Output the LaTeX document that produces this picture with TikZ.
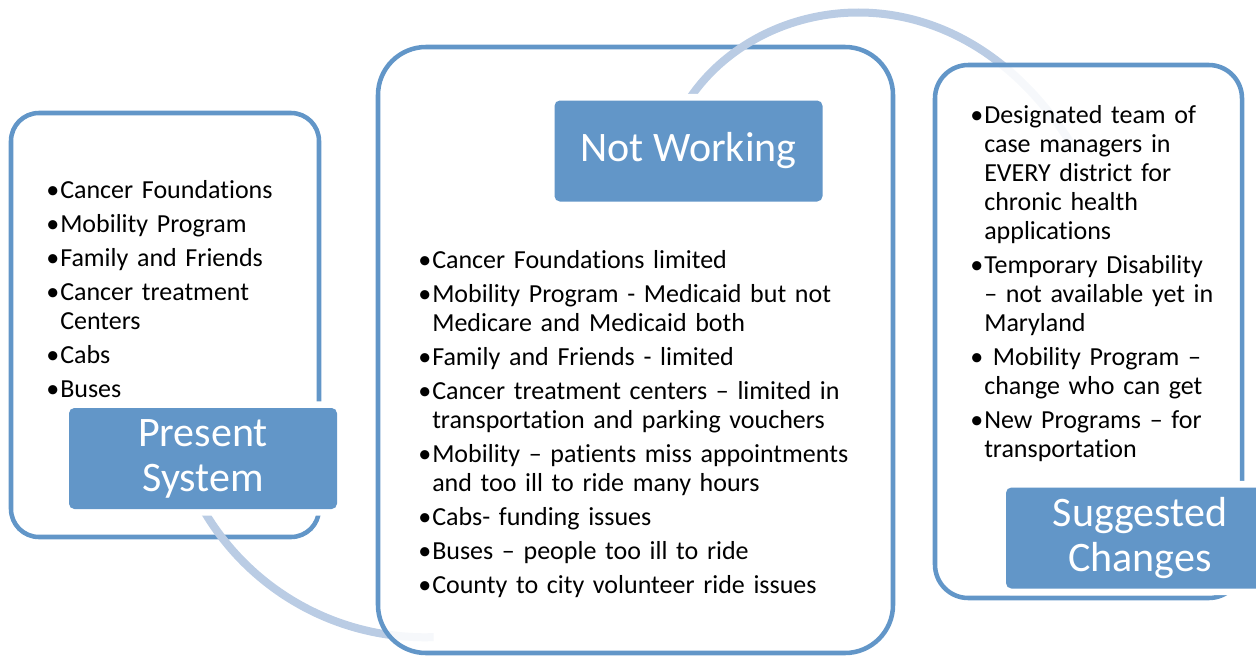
\documentclass[tikz,border=0pt]{standalone}
\usepackage{fontspec}
\setmainfont{Carlito}[Ligatures=CommonOff]

\definecolor{boxblue}{RGB}{98,150,200}
\definecolor{linkblue}{RGB}{186,204,228}

\newcommand\itm{\par\hangindent=10.5pt\hangafter=1\noindent\makebox[10.5pt][l]{•}}

\pgfdeclarelayer{front}
\pgfsetlayers{main,front}

\tikzset{
  panel/.style={draw=boxblue, line width=3.4pt, fill=white, fill opacity=0.88, rounded corners=#1},
  tag/.style={fill=boxblue, rounded corners=4pt, minimum width=201pt, minimum height=75.75pt,
    inner sep=0pt, align=center, text=white, font=\fontsize{31.5}{33.75}\selectfont,
    preaction={draw=white, line width=10pt}},
  list/.style={anchor=north west, inner sep=0pt, align=left, text width=#1,
    font=\fontsize{19.5}{21.75}\selectfont},
  link/.style={draw=linkblue, line width=6pt},
}

\begin{document}
\begin{tikzpicture}[x=0.75pt, y=-0.75pt]
\useasboundingbox (0,0) rectangle (1256,657);

% headings, kept above the rest
\begin{pgfonlayer}{front}
\node[tag] (ps) at (203,458.5) {Present\\System};
\node[tag] (nw) at (688.5,151) {Not Working};
\node[tag] (sc) at (1140,538) {Suggested\\Changes};
\end{pgfonlayer}

\node[panel=21pt, minimum width=231pt, minimum height=318pt] (lp) at (165,325) {};
\draw[link] (ps.south) arc[start angle=150, end angle=88, radius=256];
\node[panel=36pt, minimum width=386.25pt, minimum height=454.5pt] (mp) at (635.5,350) {};
\coordinate (c2) at (1075,150);
\draw[link] (nw.north) .. controls +(72,-110) and +(-115,-190) .. (c2);
\node[panel=25pt, minimum width=230.25pt, minimum height=399.75pt] (rp) at (1088.5,331.5) {};

\node[list=210pt] (lt) at (46,164) {\setlength{\parskip}{3.75pt}%
\itm Cancer Foundations
\itm Mobility Program
\itm Family and Friends
\itm Cancer treatment\newline Centers
\itm Cabs
\itm Buses\par};

\node[list=352pt] (mt) at (418,234) {\setlength{\parskip}{3.75pt}%
\itm Cancer Foundations limited
\itm Mobility Program - Medicaid but not\newline Medicare and Medicaid both
\itm Family and Friends - limited
\itm Cancer treatment centers – limited  in\newline transportation and parking vouchers
\itm Mobility – patients miss appointments\newline and too ill to ride many hours
\itm Cabs- funding issues
\itm Buses – people too ill to ride
\itm County to city volunteer ride issues\par};

\node[list=210pt] (rt) at (970,89) {\setlength{\parskip}{3.75pt}%
\itm Designated team of\newline case managers in\newline EVERY district for\newline chronic health\newline applications
\itm Temporary Disability\newline – not available yet in\newline Maryland
\itm{} Mobility Program –\newline change who can get
\itm New Programs – for\newline transportation\par};
\end{tikzpicture}
\end{document}
